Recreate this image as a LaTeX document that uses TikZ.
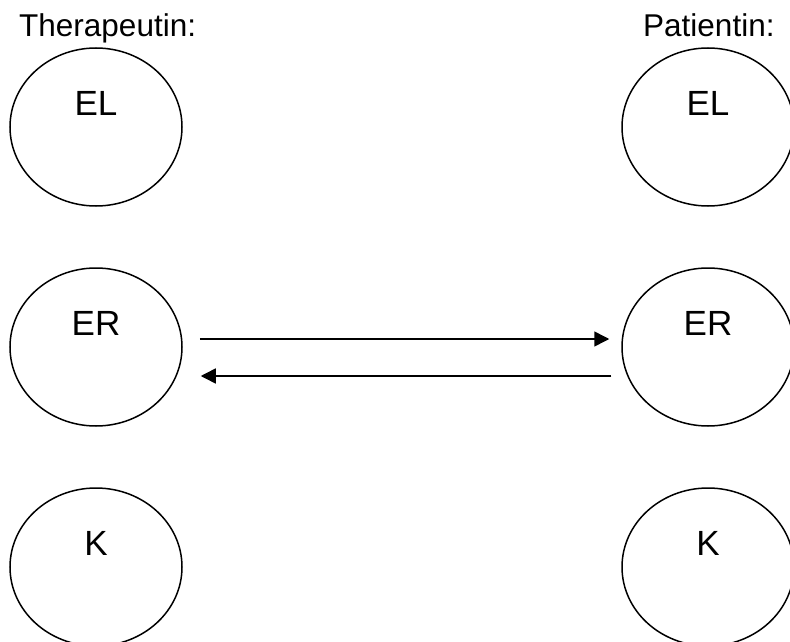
\documentclass[tikz,border=0pt]{standalone}
\usepackage{fontspec}
\setmainfont{Liberation Sans}
\usepackage{tikz}
\usetikzlibrary{shapes.geometric,arrows.meta}
\tikzstyle{person} = [ellipse, minimum width = 172pt, minimum height = 158pt, inner sep = 0pt, text height = 25pt, text depth = 49pt, draw = black, line width = 1.5pt, font = \fontsize{35}{42}\selectfont]
\tikzstyle{title} = [anchor = base west, inner sep = 0pt, font = \fontsize{31.5}{38}\selectfont]
\tikzstyle{arrow} = [line width = 1.5pt,->,>={Triangle[length=15pt,width=15pt]}]

\begin{document}
\begin{tikzpicture}[x = 1pt, y = -1pt, node distance = 220pt]
\useasboundingbox (0,0) rectangle (790,642);

\node(tTitle) [title] at (19,37) {Therapeutin:};
\node(pTitle) [title] at (643,37) {Patientin:};

\node(tEL) [person] at (96,127) {EL};
\node(tER) [person, below of = tEL] {ER};
\node(tK)  [person, below of = tER] {K};

\node(pEL) [person] at (708,127) {EL};
\node(pER) [person, below of = pEL] {ER};
\node(pK)  [person, below of = pER] {K};


\draw [arrow, shorten <= 17pt, shorten >= 12pt] ([yshift=8pt]tER.east) -- ([yshift=8pt]pER.west);
\draw [arrow, shorten <= 10pt, shorten >= 18pt] ([yshift=-29pt]pER.west) -- ([yshift=-29pt]tER.east);


\end{tikzpicture}
\end{document}
